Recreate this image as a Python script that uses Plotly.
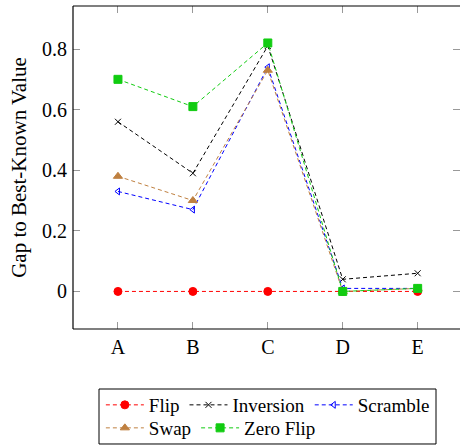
import plotly.graph_objects as go

categories = ["A", "B", "C", "D", "E"]
flip = [0.0, 0.0, 0.0, 0.0, 0.0]
inversion = [0.56, 0.39, 0.81, 0.04, 0.06]
scramble = [0.33, 0.27, 0.74, 0.01, 0.01]
swap = [0.38, 0.30, 0.73, 0.0, 0.01]
zero_flip = [0.70, 0.61, 0.82, 0.0, 0.01]
y_ticks = [0, 0.2, 0.4, 0.6, 0.8]
y_tick_labels = ["0", "0.2", "0.4", "0.6", "0.8"]

FONT = "Liberation Serif"
DASH = "4px,3px"

series = [
    ("Flip", flip, "#ff0000", "circle", 8, "legend"),
    ("Inversion", inversion, "#000000", "x-thin-open", 6, "legend"),
    ("Scramble", scramble, "#0000ff", "triangle-left-open", 6, "legend"),
    ("Swap", swap, "#bf8040", "triangle-up", 8, "legend2"),
    ("Zero Flip", zero_flip, "#11cc11", "square", 8, "legend2"),
]

fig = go.Figure()
for name, vals, color, sym, size, leg in series:
    fig.add_trace(go.Scatter(
        x=categories, y=vals, name=name, mode="lines+markers", legend=leg,
        line=dict(color=color, width=1, dash=DASH),
        marker=dict(symbol=sym, size=size, color=color,
                    line=dict(color=color, width=1)),
    ))

leg_common = dict(
    orientation="h", xanchor="left", yanchor="middle",
    borderwidth=0, bgcolor="rgba(0,0,0,0)",
    font=dict(family=FONT, size=19), itemwidth=38, tracegroupgap=0,
)
fig.update_layout(
    width=460, height=447,
    margin=dict(l=73, r=0, t=6, b=118, autoexpand=False),
    paper_bgcolor="white", plot_bgcolor="white",
    font=dict(family=FONT, size=19, color="black"),
    showlegend=True,
    legend=dict(x=0.072, y=-0.2353, **leg_common),
    legend2=dict(x=0.072, y=-0.3065, **leg_common),
)
fig.update_xaxes(
    type="category", range=[-0.6, 4.565],
    showgrid=False, zeroline=False, showline=False,
    ticks="inside", ticklen=7, tickcolor="#999999", tickwidth=1,
    mirror="ticks", tickfont=dict(family=FONT, size=20),
    ticklabelstandoff=4,
)
fig.update_yaxes(
    range=[-0.124, 0.942],
    tickvals=y_ticks, ticktext=y_tick_labels,
    showgrid=False, zeroline=False, showline=False,
    ticks="inside", ticklen=7, tickcolor="#999999", tickwidth=1,
    mirror="ticks", tickfont=dict(family=FONT, size=20),
    ticklabelstandoff=5,
    title=dict(text="Gap to Best-Known Value", font=dict(family=FONT, size=21), standoff=9),
)
# frame lines (left, top, bottom)
for x0, y0, x1, y1 in [(0, 0, 0, 1), (0, 1, 1, 1), (0, 0, 1, 0)]:
    fig.add_shape(type="line", xref="paper", yref="paper", x0=x0, y0=y0, x1=x1, y1=y1,
                  line=dict(color="black", width=1.2))
# legend box enclosing both legend rows
fig.add_shape(type="rect", xref="paper", yref="paper",
              x0=0.0672, x1=0.938, y0=-0.356, y1=-0.1858,
              line=dict(color="black", width=1), fillcolor="rgba(0,0,0,0)", layer="above")

fig.write_html(
    "out.html",
    config={"displayModeBar": False},
    post_script="document.body.style.margin='0';document.body.style.overflow='hidden';",
)
